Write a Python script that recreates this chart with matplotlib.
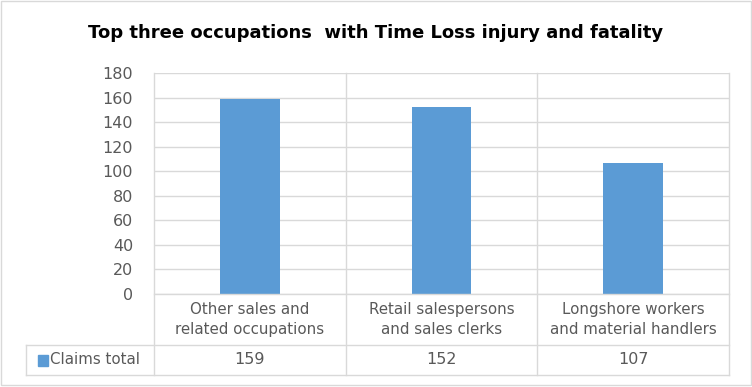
import matplotlib.pyplot as plt
from matplotlib.lines import Line2D
from matplotlib.patches import Rectangle

categories = ['Other sales and\nrelated occupations',
              'Retail salespersons\nand sales clerks',
              'Longshore workers\nand material handlers']
values = [159, 152, 107]
series_name = 'Claims total'
title = 'Top three occupations  with Time Loss injury and fatality'

plt.rcParams['font.family'] = ['DejaVu Sans']
bar_color = '#5B9BD5'
grid_color = '#D9D9D9'
text_color = '#595959'

W, H = 752, 387
fig = plt.figure(figsize=(W / 100, H / 100), dpi=100)

def fx(px):
    return px / W

def fy(py):
    return 1 - py / H

left, right, top, bottom = 154, 729, 73, 294
ax = fig.add_axes([fx(left), fy(bottom), fx(right) - fx(left), fy(top) - fy(bottom)])
x = list(range(len(values)))
ax.bar(x, values, width=0.31, color=bar_color, zorder=3)
ax.set_xlim(-0.5, len(values) - 0.5)
ax.set_ylim(0, 180)
ax.set_yticks(range(0, 181, 20))
ax.tick_params(axis='y', length=0, labelsize=11.5, labelcolor=text_color, pad=15)
ax.set_xticks([])
ax.grid(axis='y', color=grid_color, linewidth=1, zorder=0)
for s in ax.spines.values():
    s.set_visible(False)

# table lines
row1, row2 = 345, 375
col_edges = [left + (right - left) * i / 3 for i in range(4)]
lines = []
for cx in col_edges:
    lines.append(((cx, top), (cx, row2)))
lines.append(((left, bottom), (right, bottom)))
lines.append(((26, row1), (right, row1)))
lines.append(((26, row2), (right, row2)))
lines.append(((26, row1), (26, row2)))
for (x0, y0), (x1, y1) in lines:
    fig.add_artist(Line2D([fx(x0), fx(x1)], [fy(y0), fy(y1)], color=grid_color, lw=1))

for i, c in enumerate(categories):
    cx = (col_edges[i] + col_edges[i + 1]) / 2
    fig.text(fx(cx), fy((bottom + row1) / 2), c, ha='center', va='center',
             fontsize=10.8, color=text_color, linespacing=1.45)
    fig.text(fx(cx), fy((row1 + row2) / 2), str(values[i]), ha='center', va='center',
             fontsize=11.5, color=text_color)

fig.add_artist(Rectangle((fx(38), fy(366)), fx(10), fy(355) - fy(366), color=bar_color,
                         transform=fig.transFigure))
fig.text(fx(50), fy((row1 + row2) / 2), series_name, ha='left', va='center',
         fontsize=10.8, color=text_color)

fig.text(fx(376), fy(33), title, ha='center', va='center', fontsize=13,
         fontweight='bold', color='black')

fig.add_artist(Rectangle((fx(0.5), fy(385)), fx(750), fy(0.5) - fy(385), fill=False,
                         edgecolor=grid_color, lw=1, transform=fig.transFigure))

fig.savefig('out.png', dpi=100)
